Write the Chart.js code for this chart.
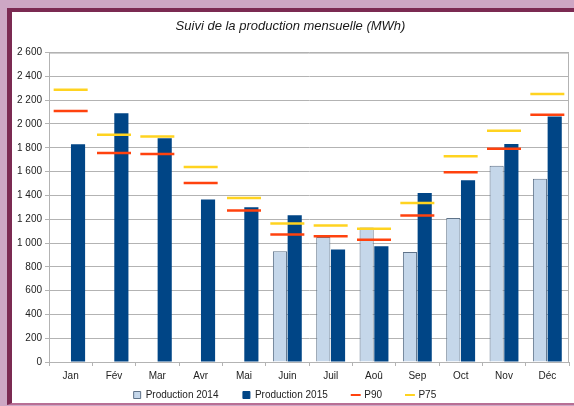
<!DOCTYPE html>
<html>
<head>
<meta charset="utf-8">
<script src="https://cdn.jsdelivr.net/npm/chart.js@4.4.1/dist/chart.umd.min.js"></script>
<style>
  html, body { margin: 0; padding: 0; }
  body { width: 574px; height: 406px; background: #cda7c4; position: relative; overflow: hidden; }
  #frame {
    position: absolute; left: 7px; top: 8px; width: 562px; height: 391px;
    border-left: 5px solid #7b2a52; border-top: 4px solid #7b2a52;
    border-bottom: 2px solid #b86f95;
    background: #fff;
  }
  #wrap { position: absolute; left: 0; top: 0; width: 562px; height: 391px; }
</style>
</head>
<body>
<div id="frame"><div id="wrap"><canvas id="prodChart"></canvas></div></div>
<script>
const months = ['Jan', 'Fév', 'Mar', 'Avr', 'Mai', 'Juin', 'Juil', 'Aoû', 'Sep', 'Oct', 'Nov', 'Déc'];
const prod2014 = [null, null, null, null, null, 930, 1050, 1130, 925, 1210, 1650, 1540];
const prod2015 = [1830, 2090, 1880, 1365, 1300, 1233, 945, 973, 1421, 1527, 1832, 2064];
const p90 = [2110, 1757, 1748, 1505, 1273, 1071, 1057, 1027, 1231, 1594, 1793, 2077];
const p75 = [2288, 1910, 1896, 1639, 1379, 1163, 1147, 1119, 1337, 1728, 1944, 2252];

const FONT = "'Liberation Sans', Arial, sans-serif";

function fmt(v) {
  return String(v).replace(/\B(?=(\d{3})+(?!\d))/g, ' ');
}

// cadre gris autour de la zone du graphique
const areaBorder = {
  id: 'areaBorder',
  afterDraw(chart) {
    const a = chart.chartArea;
    const c = chart.ctx;
    c.save();
    c.strokeStyle = '#b3b3b3';
    c.lineWidth = 1;
    c.beginPath();
    c.moveTo(a.left, a.top + 0.5);
    c.lineTo(a.right - 0.5, a.top + 0.5);
    c.lineTo(a.right - 0.5, a.bottom);
    c.stroke();
    c.restore();
  }
};

const gap = '\u00a0'.repeat(7);

const ctx = document.getElementById('prodChart').getContext('2d');
const chart = new Chart(ctx, {
  type: 'bar',
  data: {
    labels: months,
    datasets: [
      {
        label: 'Production 2014',
        data: prod2014,
        backgroundColor: '#c5d7ea',
        borderColor: '#5f7389',
        borderWidth: 1,
        categoryPercentage: 0.68,
        barPercentage: 0.96,
        order: 1
      },
      {
        label: 'Production 2015',
        data: prod2015,
        backgroundColor: '#004586',
        borderColor: '#004586',
        borderWidth: 0,
        categoryPercentage: 0.68,
        barPercentage: 0.96,
        order: 1
      },
      {
        type: 'line',
        label: 'P90',
        data: p90,
        showLine: false,
        pointStyle: 'line',
        pointRadius: 17,
        pointHoverRadius: 17,
        pointBorderWidth: 2.5,
        borderColor: '#ff420e',
        backgroundColor: '#ff420e',
        order: 0
      },
      {
        type: 'line',
        label: 'P75',
        data: p75,
        showLine: false,
        pointStyle: 'line',
        pointRadius: 17,
        pointHoverRadius: 17,
        pointBorderWidth: 2.5,
        borderColor: '#ffd320',
        backgroundColor: '#ffd320',
        order: 0
      }
    ]
  },
  options: {
    responsive: true,
    maintainAspectRatio: false,
    animation: false,
    layout: { autoPadding: false, padding: { left: 0, right: 5, top: 0, bottom: -7 } },
    plugins: {
      title: {
        display: true,
        text: 'Suivi de la production mensuelle (MWh)',
        color: '#1a1a1a',
        font: { family: FONT, size: 13, style: 'italic', weight: 'normal' },
        padding: { top: 7, bottom: 18 }
      },
      legend: {
        position: 'bottom',
        labels: {
          color: '#222',
          font: { family: FONT, size: 10 },
          usePointStyle: true,
          boxWidth: 7,
          boxHeight: 7,
          padding: 5,
          sort: (a, b) => a.datasetIndex - b.datasetIndex,
          generateLabels(chart) {
            const items = Chart.defaults.plugins.legend.labels.generateLabels(chart);
            items.forEach((it, i) => {
              const ds = chart.data.datasets[it.datasetIndex];
              it.pointStyle = ds.type === 'line' ? 'line' : 'rect';
              it.lineWidth = ds.type === 'line' ? 2 : 1;
              it.text = it.text + (it.datasetIndex < 3 ? gap : '\u00a0\u00a0\u00a0\u00a0');
            });
            return items;
          }
        }
      },
      tooltip: { enabled: false }
    },
    scales: {
      x: {
        grid: {
          display: true,
          drawOnChartArea: false,
          drawTicks: true,
          tickLength: 4,
          color: '#b3b3b3',
          offset: true
        },
        border: { color: '#b3b3b3' },
        ticks: {
          color: '#222',
          font: { family: FONT, size: 10 },
          padding: 4,
          maxRotation: 0
        },
        afterFit(scale) {
          scale.height = 23;
          scale.paddingLeft = 0;
          scale.paddingRight = 0;
        }
      },
      y: {
        min: 0,
        max: 2600,
        grid: { color: '#b3b3b3', tickLength: 4 },
        border: { color: '#b3b3b3' },
        ticks: {
          stepSize: 200,
          color: '#222',
          font: { family: FONT, size: 10 },
          padding: 3,
          callback: v => fmt(v)
        },
        afterFit(scale) { scale.width = 37; }
      }
    }
  },
  plugins: [areaBorder]
});
</script>
</body>
</html>
